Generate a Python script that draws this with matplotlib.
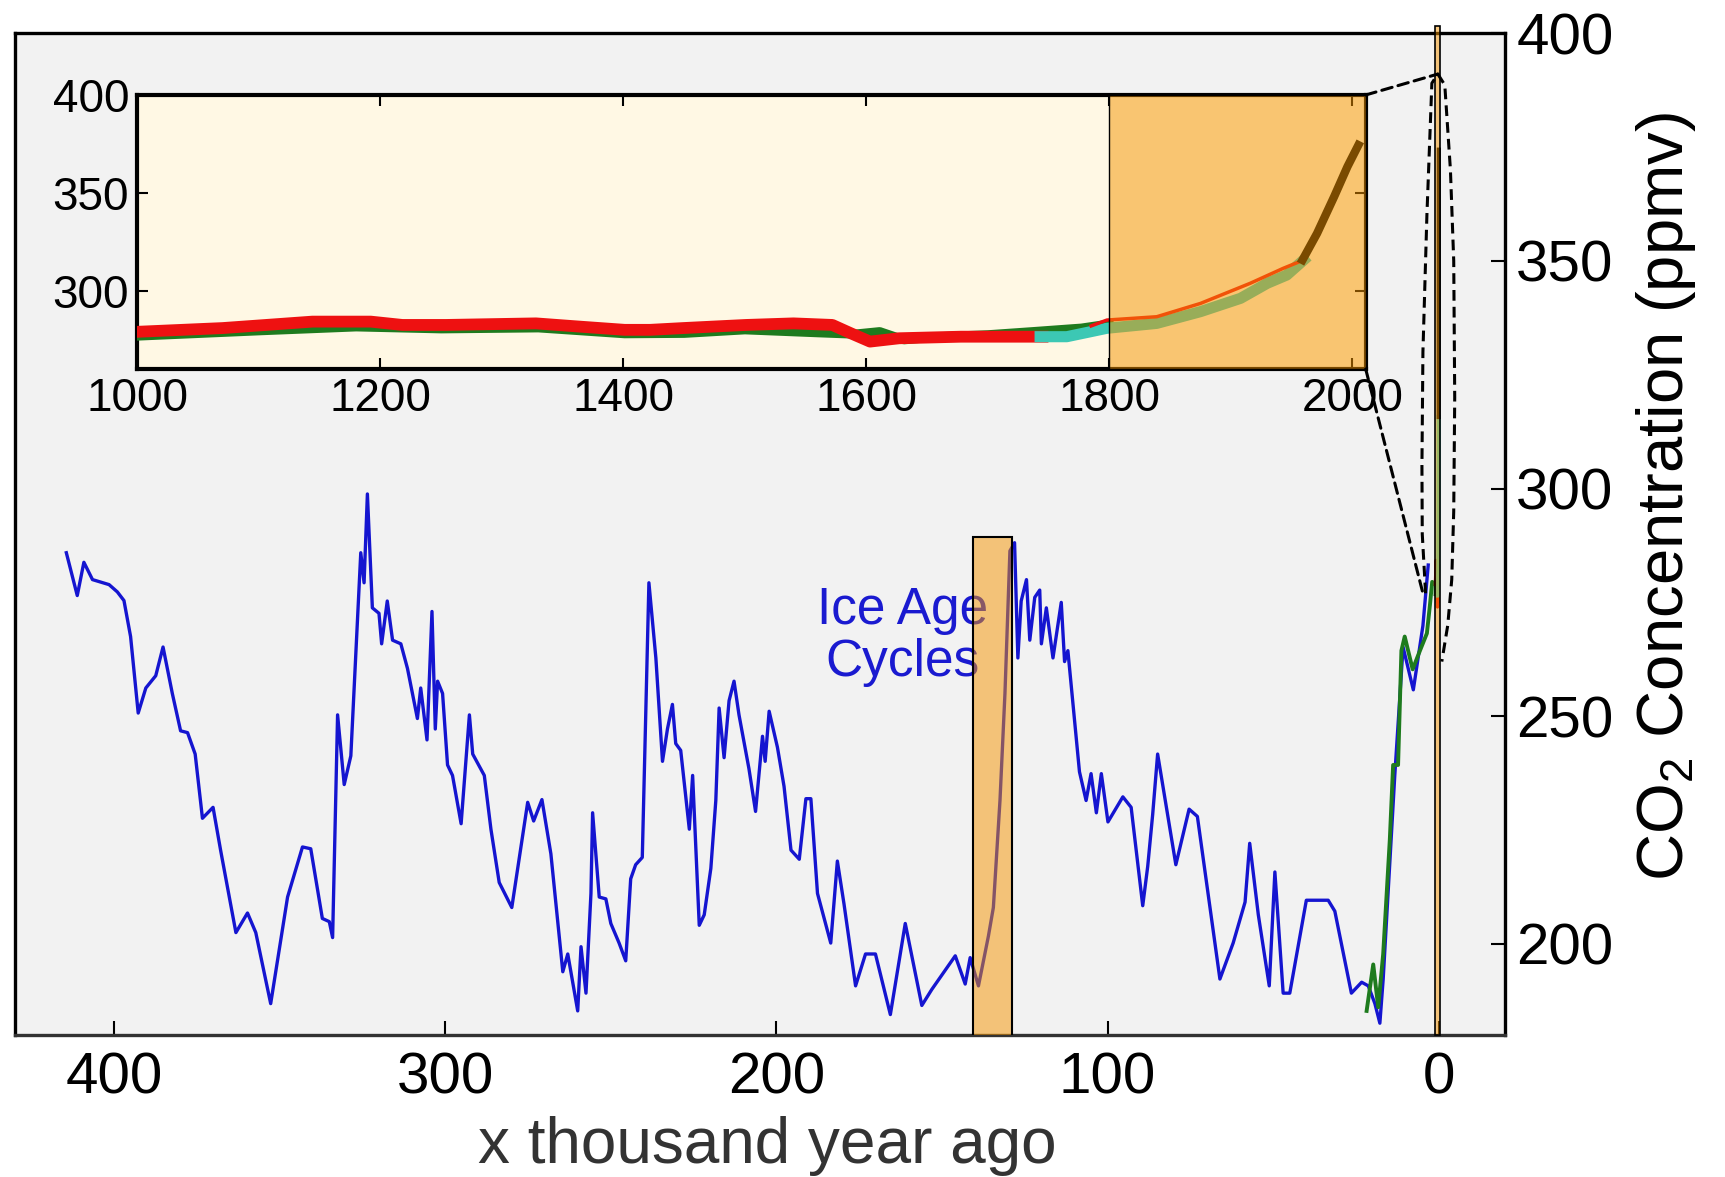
import matplotlib
matplotlib.use("Agg")
import matplotlib.pyplot as plt
from matplotlib.patches import Rectangle, ConnectionPatch

plt.rcParams['font.family'] = ['Liberation Sans', 'DejaVu Sans']
plt.rcParams['mathtext.fontset'] = 'custom'
plt.rcParams['mathtext.rm'] = 'Liberation Sans'
plt.rcParams['mathtext.it'] = 'Liberation Sans:italic'

# Vostok ice core: thousand years ago, ppmv
vostok_kyr = [414.4, 411.1, 409.1, 406.5, 401.5, 399.0, 397.0, 395.0, 392.7, 390.4,
              387.4, 385.2, 382.4, 379.9, 377.8, 375.5, 373.3, 370.1, 367.8, 363.2,
              359.7, 357.2, 352.7, 347.6, 343.1, 340.6, 337.1, 335.0, 334.0, 332.5,
              330.5, 328.5, 325.5, 324.5, 323.5, 322.0, 320.0, 319.2, 317.5, 315.9,
              313.4, 311.4, 308.4, 307.4, 305.5, 304.0, 303.0, 302.3, 300.8, 299.3,
              297.8, 295.2, 292.7, 291.7, 288.2, 286.2, 283.7, 279.9, 277.6, 275.1,
              273.3, 270.8, 268.1, 264.5, 263.0, 260.0, 259.0, 257.5, 256.0, 255.5,
              253.5, 251.5, 250.0, 247.5, 245.5, 244.0, 242.5, 240.5, 238.5, 236.4,
              234.4, 232.9, 231.4, 230.4, 228.9, 226.3, 225.3, 223.3, 221.8, 219.8,
              218.3, 217.3, 215.8, 214.3, 212.8, 211.3, 208.3, 206.3, 204.2, 203.4,
              202.2, 199.7, 197.7, 195.6, 193.1, 191.1, 189.6, 187.6, 183.6, 181.6,
              179.6, 176.1, 173.1, 170.1, 165.6, 161.1, 156.1, 153.1, 146.0, 143.0,
              141.5, 139.0, 136.0, 134.5, 132.5, 131.0, 129.5, 128.1, 127.1, 126.1,
              124.5, 123.5, 122.0, 120.5, 120.0, 118.5, 116.5, 114.0, 113.0, 112.0,
              108.5, 106.5, 105.0, 103.4, 101.9, 99.9, 95.4, 92.9, 89.4, 87.9,
              86.4, 84.9, 79.4, 75.4, 72.9, 66.1, 62.1, 58.5, 57.1, 54.5,
              51.2, 49.5, 47.0, 45.0, 40.0, 33.4, 31.4, 26.4, 23.3, 21.3,
              19.3, 17.8, 16.8, 13.3, 10.8, 7.7, 4.8, 3.2]
vostok_co2 = [285.9, 276.5, 283.8, 280.0, 278.9, 277.3, 275.4, 267.5, 250.7, 256.2,
              258.9, 265.2, 255.0, 246.8, 246.4, 241.7, 227.6, 230.0, 220.5, 202.5,
              206.8, 202.5, 186.9, 210.3, 221.3, 220.9, 205.6, 204.9, 201.4, 250.3,
              235.0, 241.3, 285.9, 279.3, 298.8, 273.8, 272.6, 265.9, 275.3, 266.7,
              265.9, 260.5, 249.5, 256.2, 244.8, 273.0, 247.2, 257.7, 255.0, 239.3,
              237.0, 226.4, 250.3, 241.7, 237.0, 225.2, 213.5, 208.0, 219.0, 231.1,
              227.0, 231.7, 219.8, 193.9, 197.8, 185.3, 199.4, 189.2, 211.1, 228.8,
              210.3, 209.9, 204.5, 200.2, 196.3, 214.3, 217.4, 219.0, 279.3, 262.8,
              240.1, 247.2, 252.6, 244.0, 242.5, 225.2, 237.0, 204.1, 206.4, 216.6,
              231.5, 251.8, 240.9, 253.4, 257.7, 250.3, 238.5, 229.1, 245.6, 240.1,
              251.1, 243.2, 234.6, 220.6, 218.6, 231.9, 231.9, 211.1, 200.2, 218.2,
              208.8, 190.8, 197.8, 197.8, 184.5, 204.5, 186.5, 190.0, 197.4, 191.2,
              197.0, 190.8, 201.7, 208.0, 231.5, 255.0, 286.3, 288.1, 262.8, 275.3,
              280.0, 266.7, 276.1, 277.7, 265.9, 273.8, 262.8, 275.0, 262.0, 264.4,
              237.8, 231.5, 237.4, 228.8, 237.4, 226.8, 232.3, 230.0, 208.4, 217.0,
              228.4, 241.7, 217.4, 229.6, 228.0, 192.3, 200.2, 209.2, 222.1, 206.4,
              190.8, 215.8, 189.2, 189.2, 209.6, 209.6, 207.2, 189.2, 191.6, 190.8,
              186.9, 182.6, 192.3, 237.0, 265.2, 255.8, 269.9, 283.2]

# Taylor Dome
taylor_kyr = [21.8, 19.8, 18.3, 16.8, 14.8, 13.8, 12.3, 11.3, 10.3, 7.9,
              5.7, 3.6, 2.7, 2.0, 1.2]
taylor_co2 = [185.3, 195.5, 186.1, 197.8, 222.9, 239.3, 239.3, 264.4, 267.5, 260.3,
              264.4, 268.2, 274.3, 279.5, 279.0]

# last millennium records: year AD, ppmv
law_year = [1000, 1070, 1144, 1192, 1218, 1254, 1328, 1365, 1401, 1422,
            1449, 1501, 1540, 1572, 1587, 1603, 1627, 1678, 1745]
law_co2 = [279.0, 280.9, 284.2, 284.2, 282.5, 282.5, 283.3, 281.6, 280.0, 280.0,
           280.9, 282.5, 283.3, 282.5, 278.3, 274.0, 275.7, 276.5, 276.5]

dome_year = [1000, 1100, 1180, 1250, 1330, 1401, 1450, 1500, 1520, 1560,
             1590, 1611, 1631, 1660, 1700, 1737, 1777, 1800]
dome_co2 = [276.8, 279.5, 281.5, 280.5, 281.0, 278.0, 278.2, 280.0, 279.5, 278.5,
            277.8, 279.1, 274.9, 276.5, 277.5, 279.1, 280.9, 283.0]

siple_year = [1743, 1765, 1798, 1839, 1875, 1908, 1930, 1946, 1960]
siple_co2 = [276.5, 276.5, 280.8, 283.3, 289.3, 296.1, 303.8, 308.0, 315.7]

firn_year = [1785, 1798, 1839, 1875, 1916, 1943, 1960]
firn_co2 = [282.0, 285.0, 286.7, 293.5, 303.8, 311.4, 315.7]

mauna_year = [1959, 1971, 1985, 1996, 2005]
mauna_co2 = [315.7, 329.3, 348.0, 363.4, 374.4]

main_xticks = [400, 300, 200, 100, 0]
main_yticks = [200, 250, 300, 350, 400]
inset_xticks = [1000, 1200, 1400, 1600, 1800, 2000]
inset_yticks = [300, 350, 400]

orange = (244 / 255, 148 / 255, 0, 0.5)
dash = (0, (3.5, 2))


def to_kyr(years):
    return [(2000 - y) / 1000 for y in years]


fig = plt.figure(figsize=(17.25, 11.77), dpi=100)
ax = fig.add_axes([0.0085, 0.1206, 0.864, 0.8513])
ax.set_facecolor('#f2f2f2')

ax.plot(vostok_kyr, vostok_co2, color='#1515d0', lw=2.4, zorder=3)
ax.plot(taylor_kyr, taylor_co2, color='#1e7b1e', lw=2.8, zorder=3)
ax.plot(to_kyr(dome_year), dome_co2, color='#1e7b1e', lw=2.8, zorder=3)
ax.plot(to_kyr(law_year), law_co2, color='#ee1111', lw=2.5, zorder=3)
ax.plot(to_kyr(siple_year), siple_co2, color='#3cd8c8', lw=3, zorder=3)
ax.plot(to_kyr(mauna_year), mauna_co2, color='black', lw=3, zorder=3)

ax.text(161.9, 267.5, 'Ice Age\nCycles', color='#1a1ad0', fontsize=37,
        ha='center', va='center', linespacing=1.1, zorder=2)

# highlighted periods
ax.add_patch(Rectangle((128.9, 170), 11.6, 289.3 - 170, fc=orange, ec='black',
                       lw=1.5, zorder=4))
ax.add_patch(Rectangle((-0.4, 180), 1.7, 401.5 - 180, fc=orange, ec='black',
                       lw=1.2, zorder=4, clip_on=False))

ax.set_xlim(430, -20)
ax.set_ylim(180, 400)
ax.set_xticks(main_xticks)
ax.set_yticks(main_yticks)
ax.yaxis.tick_right()
ax.tick_params(axis='y', direction='in', length=10, width=1.5, labelsize=42, pad=8,
               left=False, right=True, labelleft=False, labelright=True)
ax.tick_params(axis='x', direction='in', length=10, width=1.5, labelsize=42, pad=12,
               top=False)
for s in ax.spines.values():
    s.set_linewidth(2.4)
ax.spines['bottom'].set_color('#333333')

fig.text(0.4446, 0.012, 'x thousand year ago', fontsize=46, color='#333333',
         ha='center', va='baseline')
fig.text(0.966, 0.578, r'CO$_2$ Concentration (ppmv)', fontsize=47, rotation=90,
         ha='center', va='center')

# inset: last thousand years
ins = fig.add_axes([0.0797, 0.6865, 0.712, 0.2328])
ins.set_facecolor('#fff8e4')
ins.plot(dome_year, dome_co2, color='#1e7b1e', lw=6.5, zorder=3)
ins.plot(law_year, law_co2, color='#ee1111', lw=8.5, zorder=3)
ins.plot(siple_year, siple_co2, color='#3cc8b4', lw=8, zorder=3)
ins.plot(firn_year, firn_co2, color='#ee1111', lw=2.5, zorder=3)
ins.plot(mauna_year, mauna_co2, color='black', lw=6, zorder=3)
ins.axvspan(1800, 2011, fc=orange, ec='black', lw=1, zorder=5)
ins.set_xlim(1000, 2011)
ins.set_ylim(260, 400)
ins.set_xticks(inset_xticks)
ins.set_yticks(inset_yticks)
ins.tick_params(direction='in', length=8, width=1.5, labelsize=33, pad=6,
                top=True, right=True)
for s in ins.spines.values():
    s.set_linewidth(3)

# dashed outline around the recent spike and links to the inset
spike_x = [4.0, 5.0, 5.1, 4.8, 3.6, 2.1, 0.3, -1.8, -3.5, -4.5, -4.8, -4.5, -3.9, -2.7, -0.9]
spike_y = [277, 290, 305, 330, 360, 389, 391, 388.6, 370, 350, 320, 295, 280, 270, 262]
ax.plot(spike_x, spike_y, color='black', lw=2.2, ls=dash, zorder=6, clip_on=False)
for a, b in [((1, 1), (0.3, 391)), ((1, 0), (4.8, 277))]:
    con = ConnectionPatch(xyA=a, coordsA=ins.transAxes, xyB=b, coordsB=ax.transData,
                          color='black', lw=2.2, ls=dash, zorder=6)
    fig.add_artist(con)

fig.savefig('out.png', dpi=100, facecolor='white')
